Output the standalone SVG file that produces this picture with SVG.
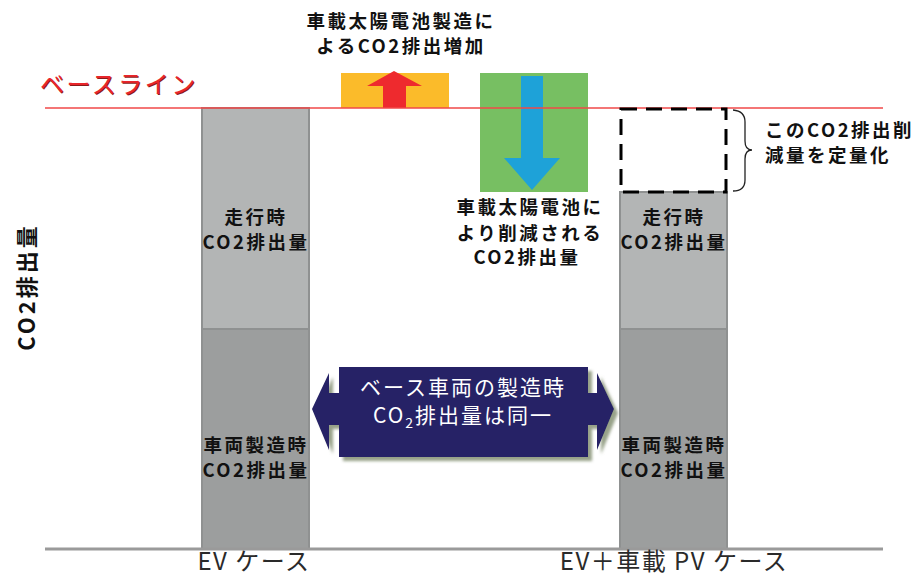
<svg xmlns="http://www.w3.org/2000/svg" width="917" height="578" viewBox="0 0 917 578">
<style>
.t{font-family:"Noto Sans CJK JP","Noto Sans",sans-serif;font-weight:bold;font-size:18.5px;fill:#111;letter-spacing:2.5px}
.c{text-anchor:middle}
.ya{font-family:"Noto Sans CJK JP","Noto Sans",sans-serif;font-weight:bold;font-size:22px;fill:#111;letter-spacing:3px;text-anchor:middle}
.w{font-family:"Noto Sans CJK JP","Noto Sans",sans-serif;font-size:21px;fill:#fff;letter-spacing:2px;text-anchor:middle}
.ax{font-family:"Noto Sans CJK JP","Noto Sans",sans-serif;font-size:24px;fill:#2a2a2a;text-anchor:middle;letter-spacing:1.5px}
.up{fill:#b3b5b5;stroke:#8f9191;stroke-width:2}
.lo{fill:#9c9e9e;stroke:#8f9191;stroke-width:2}
</style>
<defs>
<filter id="sh" x="-10%" y="-10%" width="130%" height="140%">
<feDropShadow dx="4" dy="4" stdDeviation="1.5" flood-color="#7d8a6a" flood-opacity="0.8"/>
</filter>
</defs>
<rect width="917" height="578" fill="#fff"/>

<g id="ev-bar">
<rect class="up" x="202" y="108" width="107" height="221"/>
<rect class="lo" x="202" y="329" width="107" height="220"/>
<text class="t c" x="256" y="224">走行時</text>
<text class="t c" x="256" y="249">CO2排出量</text>
<text class="t c" x="256" y="452">車両製造時</text>
<text class="t c" x="256" y="477">CO2排出量</text>
</g>

<g id="pv-bar">
<rect class="up" x="620" y="192" width="107" height="137"/>
<rect class="lo" x="620" y="329" width="107" height="220"/>
<text class="t c" x="674" y="224">走行時</text>
<text class="t c" x="674" y="249">CO2排出量</text>
<text class="t c" x="674" y="452">車両製造時</text>
<text class="t c" x="674" y="477">CO2排出量</text>
</g>

<g id="increase">
<rect x="341" y="73" width="108" height="35" fill="#fbbb2a"/>
<polygon points="394,71 422,86 406,86 406,108 383,108 383,86 367,86" fill="#ee2a2e"/>
</g>

<g id="reduction">
<rect x="480" y="73" width="108" height="119" fill="#77bf62"/>
<polygon points="521,76 543,76 543,158 560,158 532,190 504,158 521,158" fill="#1ea2d8"/>
</g>

<g id="baseline">
<line x1="45" y1="108" x2="883" y2="108" stroke="#f04848" stroke-width="1.5"/>
<text x="41" y="94" font-family="'Noto Sans CJK JP',sans-serif" font-size="24" fill="#8a1a1a" letter-spacing="2.5">ベースライン</text>
<text x="40" y="93" font-family="'Noto Sans CJK JP',sans-serif" font-size="24" fill="#e8262b" letter-spacing="2.5">ベースライン</text>
</g>

<g id="axis">
<line x1="45" y1="549" x2="883" y2="549" stroke="#9a9a9a" stroke-width="3"/>
<text class="ax" x="254" y="570">EV ケース</text>
<text class="ax" x="674" y="570">EV＋車載 PV ケース</text>
<text class="ya" transform="translate(35,287) rotate(-90)">CO2排出量</text>
</g>

<g id="dashed-box">
<rect x="621" y="109" width="105" height="83" fill="none" stroke="#000" stroke-width="3" stroke-dasharray="16 9"/>
<path d="M733,110 Q745,111 745,122 L745,141 Q745,150 752,150 Q745,150 745,159 L745,180 Q745,191 733,191" fill="none" stroke="#222" stroke-width="1.3"/>
<text class="t" x="765" y="137">このCO2排出削</text>
<text class="t" x="765" y="162">減量を定量化</text>
</g>

<g id="labels">
<text class="t c" x="401" y="28">車載太陽電池製造に</text>
<text class="t c" x="401" y="53">よるCO2排出増加</text>
<text class="t c" x="530" y="214">車載太陽電池に</text>
<text class="t c" x="530" y="240">より削減される</text>
<text class="t c" x="527" y="264">CO2排出量</text>
</g>

<g id="same-callout">
<path d="M339,367 H588 V393 H597 V373 L614,409 L597,450 V425 H588 V457 H339 V425 H329 V450 L312,409 L329,373 V393 H339 Z" fill="#262366" filter="url(#sh)"/>
<text class="w" x="463" y="395">ベース車両の製造時</text>
<text class="w" x="463" y="423">CO<tspan font-size="14" dy="5">2</tspan><tspan dy="-5">排出量は同一</tspan></text>
</g>
</svg>
